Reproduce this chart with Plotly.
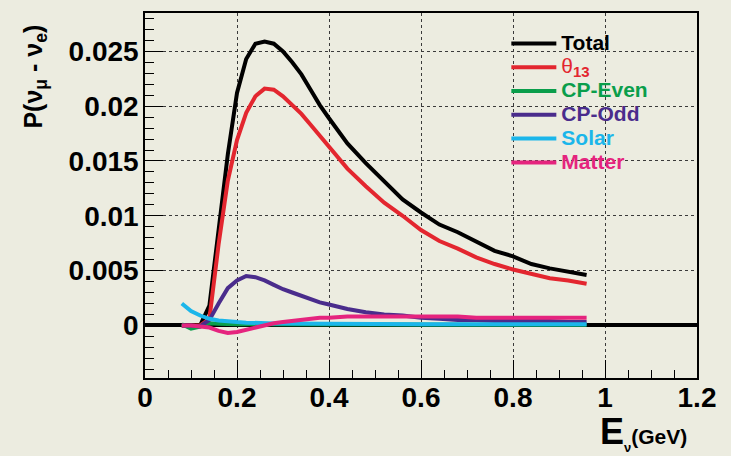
import plotly.graph_objects as go

# Neutrino energy grid (GeV)
energy = [0.08, 0.10, 0.12, 0.14, 0.16, 0.18, 0.20, 0.22, 0.24, 0.26, 0.28,
          0.30, 0.32, 0.34, 0.36, 0.38, 0.40, 0.44, 0.48, 0.52, 0.56, 0.60,
          0.64, 0.68, 0.72, 0.76, 0.80, 0.84, 0.88, 0.92, 0.96]

# Oscillation probability P(nu_mu -> nu_e) and its individual terms
p_total = [0.0, 0.0, 0.0, 0.0018, 0.0086, 0.0156, 0.0212, 0.0243, 0.0257, 0.0259, 0.0257,
           0.0250, 0.0240, 0.0229, 0.0215, 0.0201, 0.0189, 0.0166, 0.0148, 0.0132, 0.0115, 0.0103,
           0.0092, 0.0085, 0.0076, 0.0068, 0.0063, 0.0056, 0.0052, 0.0049, 0.0046]
p_theta13 = [0.0, 0.0, 0.0, 0.0006, 0.0074, 0.0132, 0.0169, 0.0194, 0.0209, 0.0216, 0.0215,
             0.0209, 0.0201, 0.0193, 0.0183, 0.0173, 0.0162, 0.0143, 0.0127, 0.0112, 0.0100, 0.0087,
             0.0077, 0.0070, 0.0062, 0.0056, 0.0051, 0.0047, 0.0043, 0.0041, 0.0038]
p_cp_even = [0.0001, -0.0003, -0.0001, 0.0002, 0.00015, 0.0001, 0.0001, 0.0001, 0.0001, 0.0001, 0.0001,
             0.0001, 0.0001, 0.0001, 0.0001, 0.0001, 0.0001, 0.0001, 0.0001, 0.0001, 0.0001, 0.0001,
             0.00005, 0.00005, 0.00005, 0.00005, 0.00005, 0.00005, 0.00005, 0.00005, 0.00005]
p_cp_odd = [0.0, 0.0, -0.0001, 0.0005, 0.0020, 0.0034, 0.0041, 0.0045, 0.0044, 0.0041, 0.0037,
            0.0033, 0.0030, 0.0027, 0.0024, 0.0021, 0.0019, 0.0015, 0.0012, 0.0010, 0.0009, 0.0007,
            0.0006, 0.0005, 0.0005, 0.0004, 0.0004, 0.0004, 0.0004, 0.0003, 0.0003]
p_solar = [0.0020, 0.0013, 0.0009, 0.0006, 0.00045, 0.00035, 0.0003, 0.00025, 0.0002, 0.0002, 0.00018,
           0.00017, 0.00016, 0.00015, 0.00015, 0.00015, 0.00014, 0.00012, 0.00011, 0.0001, 0.0001, 0.0001,
           0.0001, 0.0001, 0.0001, 0.0001, 0.0001, 0.0001, 0.0001, 0.0001, 0.0001]
p_matter = [0.0, 0.0, -0.0001, -0.0002, -0.0005, -0.0007, -0.0006, -0.0004, -0.0002, 0.0, 0.0002,
            0.0003, 0.0004, 0.0005, 0.0006, 0.0007, 0.0007, 0.0008, 0.0008, 0.0008, 0.0008, 0.0008,
            0.0008, 0.0008, 0.0007, 0.0007, 0.0007, 0.0007, 0.0007, 0.0007, 0.0007]

series_names = ["Total", "θ13", "CP-Even", "CP-Odd", "Solar", "Matter"]
series_values = [p_total, p_theta13, p_cp_even, p_cp_odd, p_solar, p_matter]
series_colors = ["#000000", "#E3262F", "#0A9E4B", "#4A2C8C", "#1BB6EA", "#E5247E"]

x_ticks = [0, 0.2, 0.4, 0.6, 0.8, 1.0, 1.2]
x_tick_labels = ["0", "0.2", "0.4", "0.6", "0.8", "1", "1.2"]
y_ticks = [0, 0.005, 0.01, 0.015, 0.02, 0.025]
y_tick_labels = ["0", "0.005", "0.01", "0.015", "0.02", "0.025"]

BG = "#ECECE0"
FONT = "Liberation Sans, Arial, sans-serif"
LEGEND_TEXT_PX = 21


def legend_label(name, color):
    size = f"font-size:{LEGEND_TEXT_PX}px"
    if name == "θ13":
        return (f"<span style='color:{color};font-weight:normal;{size}'>θ</span>"
                f"<sub><span style='color:{color};font-size:15px'><b>13</b></span></sub>")
    return f"<span style='color:{color};{size}'><b>{name}</b></span>"


fig = go.Figure()
for name, vals, color in zip(series_names, series_values, series_colors):
    fig.add_trace(go.Scatter(
        x=energy, y=vals, mode="lines", name=legend_label(name, color),
        line=dict(color=color, width=4),
    ))

axis_common = dict(
    showline=True, linecolor="black", linewidth=1.5, mirror=True,
    ticks="inside", ticklen=18, tickwidth=1, tickcolor="black",
    showgrid=True, gridcolor="#3a3a3a", gridwidth=1.3, griddash="dot",
    tickfont=dict(family=FONT, size=28, color="black", weight="bold"),
)

fig.update_xaxes(
    range=[0, 1.2], tickvals=x_ticks, ticktext=x_tick_labels,
    minor=dict(dtick=0.05, tick0=0, ticks="inside", ticklen=8, tickwidth=1,
               tickcolor="black", showgrid=False),
    zeroline=False, ticklabelstandoff=-6,
    **axis_common,
)
fig.update_yaxes(
    range=[-0.0048, 0.0285], tickvals=y_ticks, ticktext=y_tick_labels,
    minor=dict(dtick=0.001, tick0=0, ticks="inside", ticklen=9, tickwidth=1,
               tickcolor="black", showgrid=False),
    zeroline=True, zerolinecolor="black", zerolinewidth=4,
    ticklabelstandoff=-1,
    **axis_common,
)

fig.update_layout(
    width=731, height=456,
    margin=dict(l=145, r=34, t=11, b=78),
    paper_bgcolor=BG, plot_bgcolor=BG,
    font=dict(family=FONT, color="black"),
    showlegend=True,
    legend=dict(
        x=0.6546, y=0.963, xanchor="left", yanchor="top",
        bgcolor="rgba(0,0,0,0)", borderwidth=0,
        font=dict(family=FONT, size=16),
        itemwidth=45, tracegroupgap=0,
    ),
)

# Axis titles
fig.add_annotation(
    text="<b>P(ν<sub>μ</sub> - ν<sub>e</sub>)</b>",
    xref="paper", yref="paper", x=-0.201, y=0.826,
    xanchor="center", yanchor="middle", textangle=-90, showarrow=False,
    font=dict(family=FONT, size=25, color="black"),
)
fig.add_annotation(
    text=("<b>E<sub><span style='font-size:13px'>ν</span></sub>"
          "<span style='font-size:21px'>(GeV)</span></b>"),
    xref="paper", yref="paper", x=0.9855, y=-0.150,
    xanchor="right", yanchor="middle", showarrow=False,
    font=dict(family=FONT, size=36, color="black"),
)

fig.write_html("out.html")
